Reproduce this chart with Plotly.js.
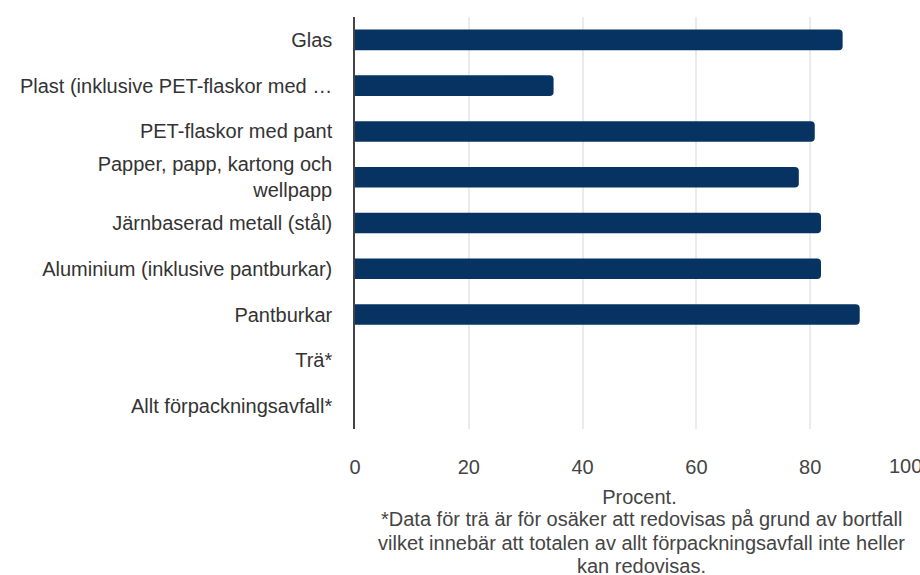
<!DOCTYPE html>
<html>
<head>
<meta charset="utf-8">
<script src="https://cdn.plot.ly/plotly-3.0.1.min.js"></script>
<style>
  html, body { margin: 0; padding: 0; overflow: hidden; background: #fff; }
  #chart { width: 940px; height: 575px; }
</style>
</head>
<body>
<div id="chart"></div>
<script>
const categories = [
  "Glas",
  "Plast (inklusive PET-flaskor med …",
  "PET-flaskor med pant",
  "Papper, papp, kartong och<br>wellpapp",
  "Järnbaserad metall (stål)",
  "Aluminium (inklusive pantburkar)",
  "Pantburkar",
  "Trä*",
  "Allt förpackningsavfall*"
];
const values = [85.7, 34.9, 80.8, 78.0, 81.9, 81.9, 88.7, null, null];
const xTickVals = [0, 20, 40, 60, 80];
const xTickText = ["0", "20", "40", "60", "80"];
const lastTickVal = 100;
const lastTickText = "100";
const xTitle = "Procent.";
const footnoteLines = [
  "*Data för trä är för osäker att redovisas på grund av bortfall",
  "vilket innebär att totalen av allt förpackningsavfall inte heller",
  "kan redovisas."
];

const FONT = "Liberation Sans, Arial, sans-serif";
const TXT = "#444444";

const trace = {
  type: "bar",
  orientation: "h",
  y: categories,
  x: values,
  marker: { color: "#073362", cornerradius: 4 },
  hoverinfo: "x+y"
};

const annotations = [{
  xref: "x", yref: "paper",
  x: lastTickVal, y: 0,
  xanchor: "right", yanchor: "middle",
  yshift: -37,
  text: lastTickText,
  showarrow: false,
  font: { family: FONT, size: 20, color: TXT }
}];
footnoteLines.forEach(function (line, i) {
  annotations.push({
    xref: "paper", yref: "paper",
    x: 0.5, y: 0,
    xanchor: "center", yanchor: "middle",
    xshift: 2,
    yshift: -90 - i * 23.5,
    text: line,
    showarrow: false,
    font: { family: FONT, size: 20, color: TXT }
  });
});

const layout = {
  width: 940,
  height: 575,
  margin: { l: 355, r: 16, t: 17, b: 146 },
  paper_bgcolor: "#ffffff",
  plot_bgcolor: "#ffffff",
  showlegend: false,
  bargap: 0.55,
  font: { family: FONT, size: 20, color: TXT },
  xaxis: {
    range: [0, 100],
    tickvals: xTickVals,
    ticktext: xTickText,
    showgrid: true,
    gridcolor: "#ebebeb",
    gridwidth: 1.5,
    zeroline: false,
    showline: false,
    ticks: "",
    ticklabelstandoff: 24,
    tickfont: { family: FONT, size: 20, color: TXT },
    automargin: false,
    fixedrange: true,
    title: {
      text: xTitle,
      font: { family: FONT, size: 20, color: TXT },
      standoff: 12
    }
  },
  yaxis: {
    type: "category",
    autorange: "reversed",
    showgrid: false,
    zeroline: false,
    showline: true,
    linecolor: "#444444",
    linewidth: 1.5,
    ticks: "",
    ticklabelstandoff: 17,
    tickfont: { family: FONT, size: 20, color: "#333333" },
    automargin: false,
    fixedrange: true
  },
  annotations: annotations
};

Plotly.newPlot("chart", [trace], layout, { displayModeBar: false });
</script>
</body>
</html>
